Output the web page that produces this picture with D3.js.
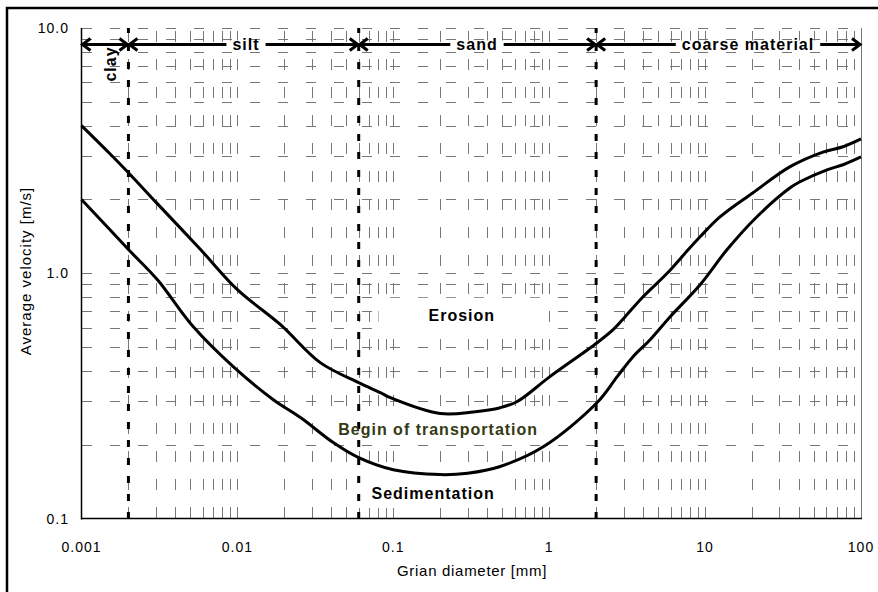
<!DOCTYPE html>
<html>
<head>
<meta charset="utf-8">
<script src="https://cdn.jsdelivr.net/npm/d3@7"></script>
<style>
  html, body { margin: 0; padding: 0; background: #fff; }
  svg { display: block; font-family: "Liberation Sans", Arial, sans-serif; }
</style>
</head>
<body>
<svg id="chart" width="878" height="592"></svg>
<script>
// ---- data ----
const erosionDiameter = [0.001, 0.0015, 0.002, 0.003, 0.0058, 0.01, 0.0189, 0.034, 0.06, 0.0826, 0.0957, 0.2, 0.326, 0.485, 0.624, 1.01, 2.03, 2.57, 3.07, 4.0, 5.71, 7.78, 9.29, 12.5, 20.3, 35.1, 57, 76.7, 100];
const erosionVelocity = [4.0, 3.1, 2.57, 1.95, 1.25, 0.857, 0.617, 0.432, 0.358, 0.326, 0.311, 0.268, 0.272, 0.283, 0.30, 0.379, 0.521, 0.589, 0.665, 0.802, 1.0, 1.246, 1.408, 1.70, 2.13, 2.72, 3.12, 3.28, 3.53];
const sedimentDiameter = [0.001, 0.002, 0.00307, 0.0052, 0.0094, 0.017, 0.0254, 0.0412, 0.06, 0.1, 0.2, 0.3, 0.485, 0.916, 2.03, 2.73, 3.45, 4.44, 5.97, 9.29, 13.8, 21.5, 35.1, 40.6, 60.5, 76.7, 100];
const sedimentVelocity = [2.0, 1.25, 0.94, 0.606, 0.416, 0.305, 0.258, 0.204, 0.177, 0.158, 0.151, 0.153, 0.163, 0.196, 0.297, 0.379, 0.457, 0.536, 0.665, 0.898, 1.246, 1.70, 2.23, 2.36, 2.64, 2.77, 2.98];
const classBounds = [0.001, 0.002, 0.06, 2, 100];
const classNames = ["clay", "silt", "sand", "coarse material"];
const xTickValues = [0.001, 0.01, 0.1, 1, 10, 100];
const xTickLabels = ["0.001", "0.01", "0.1", "1", "10", "100"];
const yTickValues = [0.1, 1, 10];
const yTickLabels = ["0.1", "1.0", "10.0"];
const zoneLabels = ["Erosion", "Begin of transportation", "Sedimentation"];
const zoneLabelPos = [[0.275, 0.64], [0.194, 0.22], [0.18, 0.12]];

// ---- scales ----
const svg = d3.select("#chart");
const x = d3.scaleLog().domain([0.001, 100]).range([81.5, 861]);
const y = d3.scaleLog().domain([0.1, 10]).range([518.5, 28]);

// outer frame
svg.append("rect").attr("x", 7).attr("y", 8).attr("width", 900).attr("height", 620)
  .attr("fill", "none").attr("stroke", "#000").attr("stroke-width", 2.5);

// minor values
const xMinor = [];
for (let e = -3; e < 2; e++) for (let m = 1; m <= 9; m++) xMinor.push(m * Math.pow(10, e));
xMinor.push(100);
const yMinor = [];
for (let e = -1; e < 1; e++) for (let m = 1; m <= 9; m++) yMinor.push(m * Math.pow(10, e));
yMinor.push(10);

const grid = svg.append("g").attr("stroke", "#777").attr("stroke-width", 1).attr("fill", "none");
grid.selectAll("line.h").data(yMinor.filter(v => v > 0.1)).join("line")
  .attr("x1", 82).attr("x2", 861)
  .attr("y1", d => Math.round(y(d)) + 0.5).attr("y2", d => Math.round(y(d)) + 0.5)
  .attr("stroke-dasharray", "10,18");
grid.selectAll("line.v").data(xMinor.filter(v => v > 0.001 && v < 100)).join("line")
  .attr("x1", d => Math.round(x(d)) + 0.5).attr("x2", d => Math.round(x(d)) + 0.5)
  .attr("y1", 518).attr("y2", 28)
  .attr("stroke-dasharray", "11,17");
// right edge of plot
grid.append("line").attr("x1", 861.5).attr("x2", 861.5).attr("y1", 28).attr("y2", 519);

// white label boxes
const boxes = svg.append("g");

// axes lines
svg.append("line").attr("x1", 81.5).attr("x2", 81.5).attr("y1", 28).attr("y2", 519.5).attr("stroke", "#000").attr("stroke-width", 1.5);
svg.append("line").attr("x1", 81).attr("x2", 862).attr("y1", 518.5).attr("y2", 518.5).attr("stroke", "#000").attr("stroke-width", 1.5);

// class boundaries
svg.append("g").selectAll("line").data(classBounds.slice(1, 4)).join("line")
  .attr("x1", d => x(d)).attr("x2", d => x(d)).attr("y1", 519).attr("y2", 28)
  .attr("stroke", "#000").attr("stroke-width", 3).attr("stroke-dasharray", "7,11");

// tick labels
svg.append("g").selectAll("text").data(xTickValues).join("text")
  .attr("x", d => x(d)).attr("y", 552).attr("text-anchor", "middle")
  .attr("font-size", 14).attr("letter-spacing", 1)
  .text((d, i) => xTickLabels[i]);
svg.append("g").selectAll("text").data(yTickValues).join("text")
  .attr("x", 69).attr("y", d => y(d) + 5).attr("text-anchor", "end")
  .attr("font-size", 14).attr("letter-spacing", 1)
  .text((d, i) => yTickLabels[i]);

// axis titles
svg.append("text").attr("x", 472).attr("y", 576).attr("text-anchor", "middle")
  .attr("font-size", 15).attr("letter-spacing", 0.7).text("Grian diameter [mm]");
svg.append("text").attr("transform", "translate(31,271) rotate(-90)").attr("text-anchor", "middle")
  .attr("font-size", 15).attr("letter-spacing", 1).text("Average velocity [m/s]");

// curves
const line = d3.line().x(d => x(d[0])).y(d => y(d[1])).curve(d3.curveCatmullRom.alpha(0.5));
svg.append("path").datum(erosionDiameter.map((d, i) => [d, erosionVelocity[i]]))
  .attr("d", line).attr("fill", "none").attr("stroke", "#000").attr("stroke-width", 3);
svg.append("path").datum(sedimentDiameter.map((d, i) => [d, sedimentVelocity[i]]))
  .attr("d", line).attr("fill", "none").attr("stroke", "#000").attr("stroke-width", 3);

// zone labels with white boxes
const zoneColors = ["#000", "#333a14", "#000"];
const zonePad = [[50, 9], [18, 6], [14, 6]];
zoneLabels.forEach((t, i) => {
  const tx = svg.append("text").attr("x", x(zoneLabelPos[i][0])).attr("y", y(zoneLabelPos[i][1]))
    .attr("text-anchor", "middle").attr("font-size", 16).attr("font-weight", "bold")
    .attr("letter-spacing", 1).attr("fill", zoneColors[i]).text(t);
  const bb = tx.node().getBBox();
  boxes.append("rect").attr("x", bb.x - zonePad[i][0]).attr("y", bb.y - zonePad[i][1])
    .attr("width", bb.width + 2 * zonePad[i][0]).attr("height", bb.height + 2 * zonePad[i][1])
    .attr("fill", "#fff");
});

// class arrows
const ay = 44.5;
const arrows = svg.append("g").attr("stroke", "#000").attr("stroke-width", 3).attr("fill", "none");
for (let i = 0; i < 4; i++) {
  const x0 = x(classBounds[i]) + 1, x1 = x(classBounds[i + 1]) - 1;
  arrows.append("line").attr("x1", x0).attr("x2", x1).attr("y1", ay).attr("y2", ay);
  arrows.append("path").attr("d", `M${x0 + 8},${ay - 6}L${x0},${ay}L${x0 + 8},${ay + 6}`);
  arrows.append("path").attr("d", `M${x1 - 8},${ay - 6}L${x1},${ay}L${x1 - 8},${ay + 6}`);
}
// class labels
const classLabelX = [null, 246, 477, 748];
for (let i = 1; i < 4; i++) {
  const tx = svg.append("text").attr("x", classLabelX[i]).attr("y", 50)
    .attr("text-anchor", "middle").attr("font-size", 16).attr("font-weight", "bold")
    .attr("letter-spacing", 1).text(classNames[i]);
  const bb = tx.node().getBBox();
  svg.insert("rect", function () { return tx.node(); })
    .attr("x", bb.x - 6).attr("y", ay - 4).attr("width", bb.width + 12).attr("height", 8).attr("fill", "#fff");
}
svg.append("text").attr("transform", "translate(116,64) rotate(-90)").attr("text-anchor", "middle")
  .attr("font-size", 16).attr("font-weight", "bold").attr("letter-spacing", 1).text(classNames[0]);
</script>
</body>
</html>
